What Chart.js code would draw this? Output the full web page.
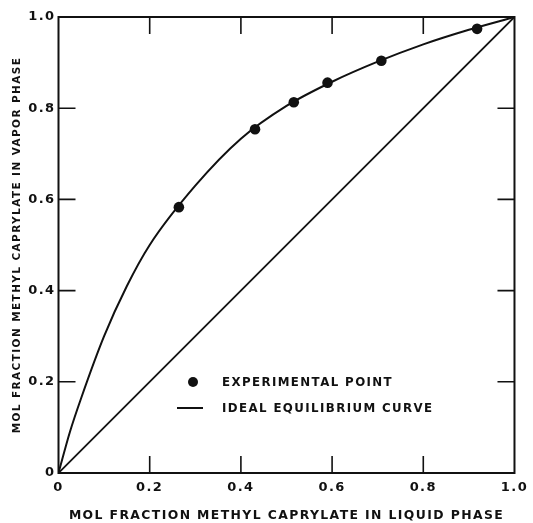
<!DOCTYPE html>
<html>
<head>
<meta charset="utf-8">
<script src="https://cdn.jsdelivr.net/npm/chart.js@4.4.0/dist/chart.umd.min.js"></script>
<style>
  html, body { margin: 0; padding: 0; background: #fff; }
  #wrap { width: 533px; height: 523px; position: relative; }
</style>
</head>
<body>
<div id="wrap"><canvas id="vleChart"></canvas></div>
<script>
// experimental points (liquid x, vapour y)
const pointX = [0.264, 0.431, 0.516, 0.590, 0.708, 0.918];
const pointY = [0.583, 0.754, 0.813, 0.856, 0.904, 0.974];

// smooth curve
const curveX = [0, 0.025, 0.05, 0.1, 0.15, 0.2, 0.3, 0.4, 0.5, 0.6, 0.7, 0.8, 0.9, 1.0];
const curveY = [0, 0.09, 0.165, 0.3, 0.41, 0.5, 0.63, 0.733, 0.805, 0.858, 0.902, 0.94, 0.972, 1.0];

// ideal (x = y) line
const idealX = [0, 1];
const idealY = [0, 1];

const tickValues = [0, 0.2, 0.4, 0.6, 0.8, 1.0];
const xTitle = "MOL FRACTION METHYL CAPRYLATE IN LIQUID PHASE";
const yTitle = "MOL FRACTION METHYL CAPRYLATE IN VAPOR PHASE";
const legendLabels = ["EXPERIMENTAL POINT", "IDEAL EQUILIBRIUM CURVE"];

const ink = "#111";
const fontFam = "'DejaVu Sans', sans-serif";

const toXY = (xs, ys) => xs.map((x, i) => ({ x: x, y: ys[i] }));
const tickLabel = (v) => (v === 0 ? "0" : v.toFixed(1));

// letter spaced lettering like the original
const spacing = {
  id: "spacing",
  beforeDraw(chart) { chart.ctx.letterSpacing = "1.4px"; }
};

// frame on four sides plus inward tick marks
const frame = {
  id: "frame",
  afterDatasetsDraw(chart) {
    const { ctx, chartArea: a, scales } = chart;
    const len = 17;
    ctx.save();
    ctx.strokeStyle = ink;
    ctx.lineWidth = 2;
    ctx.strokeRect(a.left, a.top, a.right - a.left, a.bottom - a.top);
    ctx.lineWidth = 1.6;
    ctx.beginPath();
    scales.x.ticks.forEach((t) => {
      if (t.value <= 0 || t.value >= 1) return;
      const px = scales.x.getPixelForValue(t.value);
      ctx.moveTo(px, a.bottom); ctx.lineTo(px, a.bottom - len);
      ctx.moveTo(px, a.top); ctx.lineTo(px, a.top + len);
    });
    scales.y.ticks.forEach((t) => {
      if (t.value <= 0 || t.value >= 1) return;
      const py = scales.y.getPixelForValue(t.value);
      ctx.moveTo(a.left, py); ctx.lineTo(a.left + len, py);
      ctx.moveTo(a.right, py); ctx.lineTo(a.right - len, py);
    });
    ctx.stroke();

    // legend inside the plot
    const lx = 193, ly1 = 382, ly2 = 408;
    ctx.fillStyle = ink;
    ctx.beginPath();
    ctx.arc(lx, ly1, 5, 0, Math.PI * 2);
    ctx.fill();
    ctx.lineWidth = 2;
    ctx.beginPath();
    ctx.moveTo(177, ly2); ctx.lineTo(203, ly2);
    ctx.stroke();
    ctx.font = "bold 11.8px " + fontFam;
    ctx.textBaseline = "middle";
    ctx.textAlign = "left";
    ctx.fillText(legendLabels[0], 222, ly1 + 1);
    ctx.fillText(legendLabels[1], 222, ly2 + 1);
    ctx.restore();
  }
};

new Chart(document.getElementById("vleChart"), {
  type: "scatter",
  data: {
    datasets: [
      {
        label: legendLabels[0],
        data: toXY(pointX, pointY),
        pointRadius: 5.3,
        pointBackgroundColor: ink,
        pointBorderWidth: 0,
        order: 0
      },
      {
        type: "line",
        label: "curve",
        data: toXY(curveX, curveY),
        borderColor: ink,
        borderWidth: 2,
        pointRadius: 0,
        cubicInterpolationMode: "monotone",
        order: 1
      },
      {
        type: "line",
        label: legendLabels[1],
        data: toXY(idealX, idealY),
        borderColor: ink,
        borderWidth: 1.8,
        pointRadius: 0,
        tension: 0,
        order: 2
      }
    ]
  },
  options: {
    responsive: true,
    maintainAspectRatio: false,
    animation: false,
    layout: { padding: { top: 17, right: 13, bottom: 0, left: 0 } },
    plugins: { legend: { display: false }, tooltip: { enabled: false } },
    scales: {
      x: {
        type: "linear",
        min: 0,
        max: 1,
        afterBuildTicks: (s) => { s.ticks = tickValues.map((v) => ({ value: v })); },
        afterFit: (s) => { s.height = 50; },
        grid: { display: false, drawTicks: false },
        border: { display: false },
        ticks: {
          color: ink,
          padding: 7,
          maxRotation: 0,
          autoSkip: false,
          font: { family: fontFam, size: 13, weight: "bold" },
          callback: (v) => tickLabel(v)
        },
        title: {
          display: true,
          text: xTitle,
          color: ink,
          font: { family: fontFam, size: 12.4, weight: "bold" },
          padding: { top: 0, bottom: 0 }
        }
      },
      y: {
        type: "linear",
        min: 0,
        max: 1,
        afterBuildTicks: (s) => { s.ticks = tickValues.map((v) => ({ value: v })); },
        afterFit: (s) => { s.width = 58.5; },
        grid: { display: false, drawTicks: false },
        border: { display: false },
        ticks: {
          color: ink,
          padding: 3,
          autoSkip: false,
          font: { family: fontFam, size: 13, weight: "bold" },
          callback: (v) => tickLabel(v)
        },
        title: {
          display: true,
          text: yTitle,
          color: ink,
          font: { family: fontFam, size: 10.5, weight: "bold" },
          padding: { top: 11, bottom: 0 }
        }
      }
    }
  },
  plugins: [spacing, frame]
});
</script>
</body>
</html>
